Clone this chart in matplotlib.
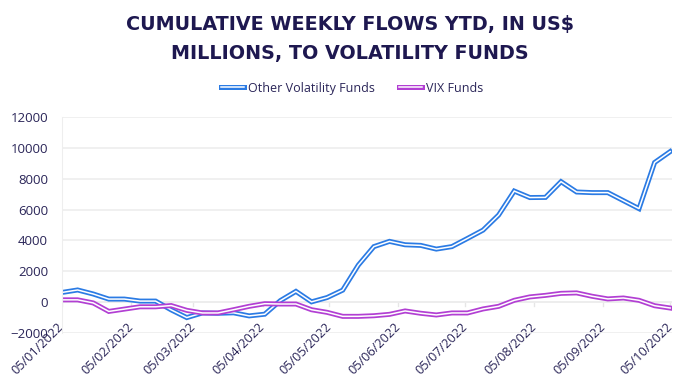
import matplotlib
matplotlib.use("Agg")
import matplotlib.pyplot as plt
import matplotlib.dates as mdates
import matplotlib.patheffects as pe
import numpy as np
import pandas as pd

# weekly cumulative flows, US$ millions
dates = pd.date_range("2022-01-05", periods=40, freq="7D")
other_vol = [630, 790, 530, 200, 200, 70, 70, -500, -1000, -700,
             -720, -690, -890, -780, 100, 700, 20, 300, 780, 2400,
             3600, 3940, 3720, 3680, 3440, 3600, 4130, 4670, 5650, 7200,
             6780, 6790, 7810, 7140, 7100, 7100, 6580, 6060, 9050, 9760]
vix = [150, 150, -50, -600, -450, -300, -300, -220, -530, -700,
       -700, -490, -270, -100, -120, -120, -490, -660, -920, -920,
       -880, -790, -570, -720, -830, -700, -700, -440, -270, 120,
       340, 440, 570, 600, 380, 210, 270, 120, -230, -380]

blue = "#2B7BE4"
purple = "#B23FD3"
navy = "#1E1850"

plt.rcParams["font.family"] = ["Open Sans", "DejaVu Sans"]

fig = plt.figure(figsize=(7, 3.83), dpi=100)
ax = fig.add_axes([0.0886, 0.1305, 0.872, 0.564])


def double_line(x, y, color, label):
    ax.plot(x, y, color="white", lw=1.1, label=label, solid_joinstyle="miter",
            path_effects=[pe.Stroke(linewidth=3.6, foreground=color), pe.Normal()])


double_line(dates, other_vol, blue, "Other Volatility Funds")
double_line(dates, vix, purple, "VIX Funds")

ax.set_ylim(-2000, 12000)
ax.set_yticks(np.arange(-2000, 12001, 2000))
ax.set_xlim(dates[0], dates[-1] + pd.Timedelta(days=1))
ax.xaxis.set_major_locator(mdates.MonthLocator(bymonthday=5))
ax.xaxis.set_major_formatter(mdates.DateFormatter("%d/%m/%Y"))

ax.grid(axis="y", color="#EEEEEE", lw=1.2)
ax.set_axisbelow(True)
for s in ["top", "right", "bottom"]:
    ax.spines[s].set_visible(False)
ax.spines["left"].set_color("#EEEEEE")
ax.axhline(0, color="#E6E6E6", lw=1.2, zorder=0)
for t in ax.get_xticks():
    ax.plot([t, t], [0, -250], color="#E6E6E6", lw=1, zorder=0)

ax.tick_params(axis="both", length=0, labelsize=9.5, labelcolor="#2A2558")
ax.tick_params(axis="y", pad=10)
ax.tick_params(axis="x", pad=-6, labelsize=9.2)
plt.setp(ax.get_xticklabels(), rotation=45, ha="right", va="center",
         rotation_mode="anchor")

fig.text(0.5, 0.9355, "CUMULATIVE WEEKLY FLOWS YTD, IN US$", ha="center", va="center",
         fontsize=13.8, fontweight="bold", color=navy, family="DejaVu Sans")
fig.text(0.5, 0.8616, "MILLIONS, TO VOLATILITY FUNDS", ha="center", va="center",
         fontsize=13.8, fontweight="bold", color=navy, family="DejaVu Sans")

fig.legend(loc="center", bbox_to_anchor=(0.503, 0.77), ncol=2, frameon=False,
           fontsize=9, handlelength=1.8, handletextpad=0.3, columnspacing=2.0,
           labelcolor="#2A2558")

fig.savefig("out.png", dpi=100)
